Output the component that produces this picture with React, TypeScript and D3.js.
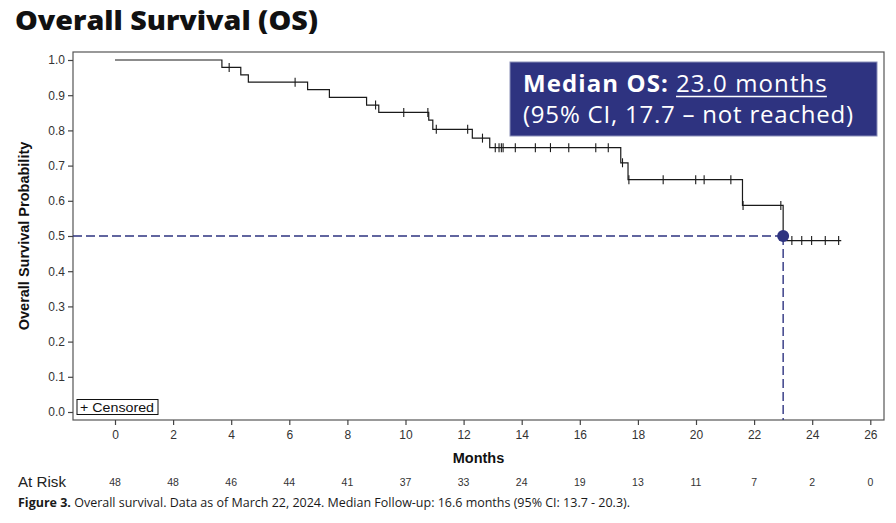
import { useEffect, useRef } from 'react';
import * as d3 from 'd3';

// Kaplan-Meier steps: event times (months) and survival right after each event
const eventMonths = [3.68, 4.33, 4.59, 6.63, 7.38, 8.66, 9.08, 10.8, 10.94, 12.3, 12.9, 17.41, 17.66, 21.6, 23.0];
const survivalAfter = [0.979, 0.958, 0.937, 0.916, 0.894, 0.872, 0.851, 0.829, 0.803, 0.778, 0.751, 0.708, 0.66, 0.587, 0.487];
const lastFollowUp = 25.0;

// censored observations (months)
const censoredMonths = [
  3.93, 6.2, 8.97, 9.94, 10.77, 11.06, 12.14, 12.65, 13.09, 13.22, 13.3, 13.36, 13.78, 14.47,
  14.99, 15.62, 16.55, 16.98, 17.47, 17.69, 18.87, 19.99, 20.28, 21.2, 21.62, 22.92, 23.3,
  23.64, 23.98, 24.45, 24.91,
];

const xTicks = d3.range(0, 27, 2);
const yTicks = d3.range(0, 11).map(d => d / 10);
const atRisk = [48, 48, 46, 44, 41, 37, 33, 24, 19, 13, 11, 7, 2, 0];

const medianMonths = 23.0;
const medianLevel = 0.5;

const WIDTH = 896;
const HEIGHT = 523;
const NAVY = '#2e3380';
const AXIS_FONT = '"Liberation Sans", Arial, sans-serif';

export default function App() {
  const svgRef = useRef<SVGSVGElement>(null);

  useEffect(() => {
    const svg = d3.select(svgRef.current);
    svg.selectAll('*').remove();

    const frame = { left: 73, top: 52, right: 884, bottom: 420 };
    const x = d3.scaleLinear().domain([0, 26]).range([115, 870.3]);
    const y = d3.scaleLinear().domain([0, 1]).range([412, 60]);

    svg.append('rect')
      .attr('width', WIDTH)
      .attr('height', HEIGHT)
      .attr('fill', '#fff');

    // title
    svg.append('text')
      .attr('x', 15)
      .attr('y', 30)
      .attr('fill', '#111')
      .style('font-family', '"Open Sans", sans-serif')
      .style('font-weight', '800')
      .style('font-size', '27px')
      .attr('textLength', 303)
      .attr('lengthAdjust', 'spacingAndGlyphs')
      .text('Overall Survival (OS)');

    // plot frame
    svg.append('rect')
      .attr('x', frame.left)
      .attr('y', frame.top)
      .attr('width', frame.right - frame.left)
      .attr('height', frame.bottom - frame.top)
      .attr('fill', 'none')
      .attr('stroke', '#555')
      .attr('stroke-width', 1.2);

    // axes
    const yAxis = svg.append('g')
      .attr('transform', `translate(${frame.left},0)`)
      .call(d3.axisLeft(y).tickValues(yTicks).tickFormat(d3.format('.1f')).tickSize(5).tickPadding(3));
    const xAxis = svg.append('g')
      .attr('transform', `translate(0,${frame.bottom})`)
      .call(d3.axisBottom(x).tickValues(xTicks).tickFormat(d3.format('d')).tickSize(5).tickPadding(5));

    [xAxis, yAxis].forEach(ax => {
      ax.select('.domain').remove();
      ax.selectAll('line').attr('stroke', '#444').attr('stroke-width', 1.2);
      ax.selectAll('text')
        .attr('fill', '#333')
        .style('font-family', AXIS_FONT)
        .style('font-size', '12px');
    });

    svg.append('text')
      .attr('transform', `translate(29,${(frame.top + frame.bottom) / 2}) rotate(-90)`)
      .attr('text-anchor', 'middle')
      .attr('fill', '#111')
      .style('font-family', AXIS_FONT)
      .style('font-weight', '700')
      .style('font-size', '14.5px')
      .text('Overall Survival Probability');

    svg.append('text')
      .attr('x', (frame.left + frame.right) / 2)
      .attr('y', 463)
      .attr('text-anchor', 'middle')
      .attr('fill', '#111')
      .style('font-family', AXIS_FONT)
      .style('font-weight', '700')
      .style('font-size', '14.5px')
      .text('Months');

    // median reference lines
    const dash = '9,4';
    svg.append('line')
      .attr('x1', frame.left)
      .attr('x2', x(medianMonths))
      .attr('y1', y(medianLevel))
      .attr('y2', y(medianLevel))
      .attr('stroke', NAVY)
      .attr('stroke-width', 1.4)
      .attr('stroke-dasharray', dash);
    svg.append('line')
      .attr('x1', x(medianMonths))
      .attr('x2', x(medianMonths))
      .attr('y1', y(medianLevel))
      .attr('y2', frame.bottom)
      .attr('stroke', NAVY)
      .attr('stroke-width', 1.4)
      .attr('stroke-dasharray', dash);

    // survival curve
    const steps = [{ t: 0, s: 1 }]
      .concat(eventMonths.map((t, i) => ({ t, s: survivalAfter[i] })));
    steps.push({ t: lastFollowUp, s: survivalAfter[survivalAfter.length - 1] });

    const line = d3.line<{ t: number; s: number }>()
      .x(d => x(d.t))
      .y(d => y(d.s))
      .curve(d3.curveStepAfter);

    svg.append('path')
      .datum(steps)
      .attr('d', line)
      .attr('fill', 'none')
      .attr('stroke', '#1a1a1a')
      .attr('stroke-width', 1.2);

    const survivalAt = (t: number) => {
      let s = 1;
      eventMonths.forEach((e, i) => { if (e <= t) s = survivalAfter[i]; });
      return s;
    };

    svg.append('g')
      .selectAll('line')
      .data(censoredMonths)
      .join('line')
      .attr('x1', d => x(d))
      .attr('x2', d => x(d))
      .attr('y1', d => y(survivalAt(d)) - 4.5)
      .attr('y2', d => y(survivalAt(d)) + 4.5)
      .attr('stroke', '#1a1a1a')
      .attr('stroke-width', 1.1);

    svg.append('circle')
      .attr('cx', x(medianMonths))
      .attr('cy', y(medianLevel))
      .attr('r', 6)
      .attr('fill', NAVY);

    // legend
    svg.append('rect')
      .attr('x', 77)
      .attr('y', 399.5)
      .attr('width', 81)
      .attr('height', 15)
      .attr('fill', '#fff')
      .attr('stroke', '#111')
      .attr('stroke-width', 1);
    svg.append('text')
      .attr('x', 80)
      .attr('y', 412)
      .attr('fill', '#111')
      .style('font-family', AXIS_FONT)
      .style('font-size', '13.5px')
      .attr('textLength', 74)
      .attr('lengthAdjust', 'spacingAndGlyphs')
      .text('+ Censored');

    // median callout
    const box = svg.append('g');
    box.append('rect')
      .attr('x', 510)
      .attr('y', 62)
      .attr('width', 367)
      .attr('height', 74)
      .attr('fill', NAVY)
      .attr('stroke', '#8a8fb8')
      .attr('stroke-width', 1);

    const calloutFont = '"Open Sans", sans-serif';
    const bold = box.append('text')
      .attr('x', 523)
      .attr('y', 92)
      .attr('fill', '#fff')
      .style('font-family', calloutFont)
      .style('font-weight', '700')
      .style('font-size', '24px')
      .style('letter-spacing', '1.1px')
      .text('Median OS:');
    const boldW = (bold.node() as SVGTextElement).getComputedTextLength();
    const valueX = 523 + boldW + 7;
    const value = box.append('text')
      .attr('x', valueX)
      .attr('y', 92)
      .attr('fill', '#fff')
      .style('font-family', calloutFont)
      .style('font-size', '24px')
      .style('letter-spacing', '1.1px')
      .text(`${medianMonths.toFixed(1)} months`);
    const valueW = (value.node() as SVGTextElement).getComputedTextLength();
    box.append('line')
      .attr('x1', valueX)
      .attr('x2', valueX + valueW - 1)
      .attr('y1', 96.5)
      .attr('y2', 96.5)
      .attr('stroke', '#fff')
      .attr('stroke-width', 1.3);
    box.append('text')
      .attr('x', 523)
      .attr('y', 123)
      .attr('fill', '#fff')
      .style('font-family', calloutFont)
      .style('font-size', '24px')
      .attr('textLength', 330)
      .attr('lengthAdjust', 'spacing')
      .text('(95% CI, 17.7 \u2013 not reached)');

    // number at risk
    svg.append('text')
      .attr('x', 18)
      .attr('y', 487)
      .attr('fill', '#222')
      .style('font-family', AXIS_FONT)
      .style('font-size', '14px')
      .attr('textLength', 48)
      .attr('lengthAdjust', 'spacingAndGlyphs')
      .text('At Risk');
    svg.append('g')
      .selectAll('text')
      .data(atRisk)
      .join('text')
      .attr('x', (d, i) => x(xTicks[i]))
      .attr('y', 486)
      .attr('text-anchor', 'middle')
      .attr('fill', '#333')
      .style('font-family', '"Liberation Sans Narrow", "Liberation Sans", Arial, sans-serif')
      .style('font-size', '10.5px')
      .text(d => d);

    // caption
    const caption = svg.append('text')
      .attr('x', 18)
      .attr('y', 507)
      .attr('fill', '#1a1a1a')
      .style('font-family', '"Open Sans", sans-serif')
      .style('font-size', '12px')
      .attr('textLength', 612)
      .attr('lengthAdjust', 'spacingAndGlyphs');
    caption.append('tspan')
      .style('font-weight', '700')
      .text('Figure 3.');
    caption.append('tspan')
      .text(' Overall survival. Data as of March 22, 2024. Median Follow-up: 16.6 months (95% CI: 13.7 - 20.3).');
  }, []);

  return (
    <svg
      ref={svgRef}
      width={WIDTH}
      height={HEIGHT}
      style={{ position: 'absolute', left: 0, top: 0, display: 'block' }}
    />
  );
}
